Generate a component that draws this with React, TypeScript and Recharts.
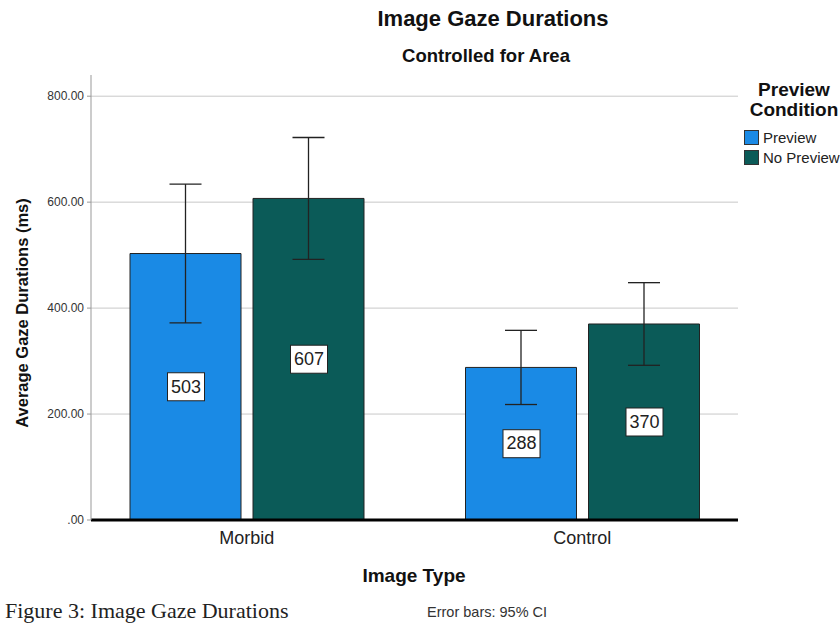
import React from "react";
import { BarChart, Bar, XAxis, YAxis, CartesianGrid, ErrorBar, LabelList } from "recharts";

const imageTypes = ["Morbid", "Control"];
const previewMeans = [503, 288];
const noPreviewMeans = [607, 370];
const previewCI = [131, 70];
const noPreviewCI = [115, 78];
const yTicks = [0, 200, 400, 600, 800];
const legendItems = [
  { label: "Preview", color: "#1a8ae5" },
  { label: "No Preview", color: "#0b5b58" },
];

const FONT = "'Liberation Sans', Arial, sans-serif";

const data = imageTypes.map((name, i) => ({
  name,
  preview: previewMeans[i],
  noPreview: noPreviewMeans[i],
  previewErr: previewCI[i],
  noPreviewErr: noPreviewCI[i],
}));

const ValueBox = (props: any) => {
  const { x, y, width, height, value } = props;
  const cx = x + width / 2;
  const cy = y + height / 2;
  return (
    <g>
      <rect x={cx - 18} y={cy - 14} width={37} height={28} fill="#fff" stroke="#222" strokeWidth={1} />
      <text x={cx + 0.5} y={cy + 1} textAnchor="middle" dominantBaseline="middle" fontSize={18} fontFamily={FONT} fill="#222">
        {value}
      </text>
    </g>
  );
};

// y axis title, placed like the SPSS one (left of the tick labels)
const YTitle = () => (
  <text
    transform="translate(28,313) rotate(-90)"
    textAnchor="middle"
    fontSize={16.5}
    fontWeight="bold"
    fontFamily={FONT}
    fill="#111"
  >
    Average Gaze Durations (ms)
  </text>
);

const App = () => {
  return (
    <div style={{ position: "absolute", left: 0, top: 0, width: 840, height: 623, background: "#fff", fontFamily: FONT, color: "#111" }}>
      <div style={{ position: "absolute", top: 6, left: 293, width: 400, textAlign: "center", fontWeight: "bold", fontSize: 22 }}>
        Image Gaze Durations
      </div>
      <div style={{ position: "absolute", top: 45, left: 286, width: 400, textAlign: "center", fontWeight: "bold", fontSize: 18.5 }}>
        Controlled for Area
      </div>
      <BarChart
        width={840}
        height={623}
        data={data}
        margin={{ top: 75, right: 102, bottom: 73, left: 31 }}
        barGap={12}
        barSize={111}
      >
        <CartesianGrid vertical={false} horizontalValues={yTicks} stroke="#c8c8c8" strokeWidth={1} />
        <XAxis
          dataKey="name"
          height={30}
          padding={{ left: -12, right: -12 }}
          axisLine={{ stroke: "#000", strokeWidth: 3 }}
          tickLine={false}
          tick={{ fontSize: 18, fill: "#222", fontFamily: FONT }}
          tickMargin={5}
        />
        <YAxis
          width={60}
          domain={[0, 840]}
          ticks={yTicks}
          allowDataOverflow
          axisLine={{ stroke: "#999" }}
          tickLine={{ stroke: "#999" }}
          tickSize={4}
          tickMargin={3}
          tick={{ fontSize: 12, fill: "#333", fontFamily: FONT }}
          tickFormatter={(v: number) => (v === 0 ? ".00" : v.toFixed(2))}
          label={{ content: <YTitle /> }}
        />
        <Bar dataKey="preview" name="Preview" fill={legendItems[0].color} stroke="#222" strokeWidth={1} isAnimationActive={false}>
          <ErrorBar dataKey="previewErr" width={16} stroke="#222" strokeWidth={1.3} direction="y" />
          <LabelList dataKey="preview" content={<ValueBox />} />
        </Bar>
        <Bar dataKey="noPreview" name="No Preview" fill={legendItems[1].color} stroke="#222" strokeWidth={1} isAnimationActive={false}>
          <ErrorBar dataKey="noPreviewErr" width={16} stroke="#222" strokeWidth={1.3} direction="y" />
          <LabelList dataKey="noPreview" content={<ValueBox />} />
        </Bar>
      </BarChart>
      <div style={{ position: "absolute", top: 80, left: 744, width: 96, background: "#fff" }}>
        <div style={{ fontWeight: "bold", fontSize: 19, lineHeight: "20px", textAlign: "center", marginLeft: 4 }}>
          Preview<br />Condition
        </div>
        <div style={{ marginTop: 8 }}>
          {legendItems.map((it) => (
            <div key={it.label} style={{ display: "flex", alignItems: "center", height: 19.5, fontSize: 15, color: "#222", whiteSpace: "nowrap" }}>
              <span style={{ width: 15, height: 15, background: it.color, border: "1px solid #333", boxSizing: "border-box", marginRight: 4, flexShrink: 0 }} />
              {it.label}
            </div>
          ))}
        </div>
      </div>
      <div style={{ position: "absolute", top: 565, left: 314, width: 200, textAlign: "center", fontWeight: "bold", fontSize: 19 }}>
        Image Type
      </div>
      <div style={{ position: "absolute", top: 598, left: 5, fontFamily: "'Liberation Serif', 'Times New Roman', serif", fontSize: 22, color: "#222" }}>
        Figure 3: Image Gaze Durations
      </div>
      <div style={{ position: "absolute", top: 604, left: 427, fontSize: 14.5, color: "#333" }}>
        Error bars: 95% CI
      </div>
    </div>
  );
};

export default App;
